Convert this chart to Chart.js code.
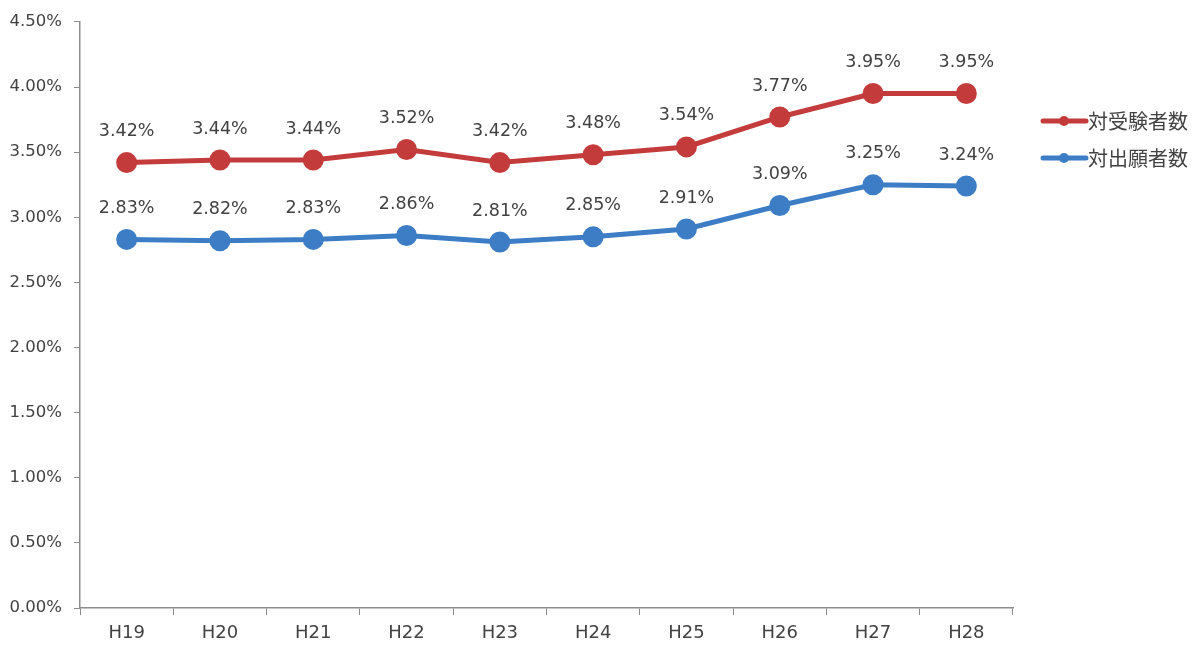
<!DOCTYPE html>
<html>
<head>
<meta charset="utf-8">
<script src="https://cdn.jsdelivr.net/npm/chart.js@4/dist/chart.umd.min.js"></script>
<style>
html,body{margin:0;padding:0;background:#fff;}
#wrap{width:1200px;height:660px;position:relative;}
</style>
</head>
<body>
<div id="wrap"><canvas id="c" width="1200" height="660"></canvas></div>
<script>
const categories = ["H19","H20","H21","H22","H23","H24","H25","H26","H27","H28"];
const seriesNames = ["対受験者数","対出願者数"];
const examineeRatio = [3.42,3.44,3.44,3.52,3.42,3.48,3.54,3.77,3.95,3.95];
const applicantRatio = [2.83,2.82,2.83,2.86,2.81,2.85,2.91,3.09,3.25,3.24];
const yTicks = [0,0.5,1,1.5,2,2.5,3,3.5,4,4.5];

const RED = '#C43B3C';
const BLUE = '#3C7DC5';
const TXT = '#424242';
const FONT = '"DejaVu Sans","Noto Sans CJK JP",sans-serif';
const CJK = '"Noto Sans CJK JP",sans-serif';

const labelPlugin = {
  id: 'labels',
  afterDatasetsDraw(chart) {
    const ctx = chart.ctx;
    ctx.save();
    ctx.font = '17.5px ' + FONT;
    ctx.fillStyle = TXT;
    ctx.textAlign = 'center';
    ctx.textBaseline = 'middle';
    chart.data.datasets.forEach((ds, i) => {
      const meta = chart.getDatasetMeta(i);
      meta.data.forEach((pt, j) => {
        ctx.fillText(ds.data[j].toFixed(2) + '%', pt.x, pt.y - 31);
      });
    });
    ctx.restore();
  },
  afterDraw(chart) {
    const ctx = chart.ctx;
    ctx.save();
    const ys = [121, 158];
    chart.data.datasets.forEach((ds, i) => {
      const y = ys[i];
      ctx.strokeStyle = ds.borderColor;
      ctx.lineWidth = 5;
      ctx.lineCap = 'round';
      ctx.beginPath();
      ctx.moveTo(1043, y); ctx.lineTo(1086, y); ctx.stroke();
      ctx.fillStyle = ds.borderColor;
      ctx.beginPath(); ctx.arc(1064, y, 5, 0, Math.PI * 2); ctx.fill();
      ctx.font = '20px ' + CJK;
      ctx.fillStyle = TXT;
      ctx.textAlign = 'left';
      ctx.textBaseline = 'middle';
      ctx.fillText(ds.label, 1088, y);
    });
    ctx.restore();
  }
};

new Chart(document.getElementById('c'), {
  type: 'line',
  data: {
    labels: categories,
    datasets: [
      { label: seriesNames[0], data: examineeRatio, borderColor: RED, backgroundColor: RED,
        borderWidth: 5, pointRadius: 8, pointHoverRadius: 8, pointBackgroundColor: RED, pointBorderColor: RED, tension: 0 },
      { label: seriesNames[1], data: applicantRatio, borderColor: BLUE, backgroundColor: BLUE,
        borderWidth: 5, pointRadius: 8, pointHoverRadius: 8, pointBackgroundColor: BLUE, pointBorderColor: BLUE, tension: 0 }
    ]
  },
  options: {
    responsive: false,
    animation: false,
    layout: { padding: { top: 20, right: 187, left: 0, bottom: 0 } },
    plugins: { legend: { display: false }, tooltip: { enabled: false } },
    scales: {
      x: {
        offset: true,
        grid: { display: true, drawOnChartArea: false, offset: true, tickLength: 7, color: '#8c8c8c', lineWidth: 1 },
        border: { display: true, color: '#8c8c8c', width: 1.5 },
        ticks: { color: TXT, font: { size: 18, family: FONT }, padding: 8 },
        afterFit(s) { s.height = 52; }
      },
      y: {
        min: 0, max: 4.5,
        afterBuildTicks(s) { s.ticks = yTicks.map(v => ({ value: v })); },
        grid: { display: true, drawOnChartArea: false, tickLength: 6, color: '#8c8c8c', lineWidth: 1 },
        border: { display: true, color: '#8c8c8c', width: 1.5 },
        ticks: { color: TXT, font: { size: 16.5, family: FONT }, padding: 12,
          callback: v => Number(v).toFixed(2) + '%' },
        afterFit(s) { s.width = 80; }
      }
    }
  },
  plugins: [labelPlugin]
});
</script>
</body>
</html>
